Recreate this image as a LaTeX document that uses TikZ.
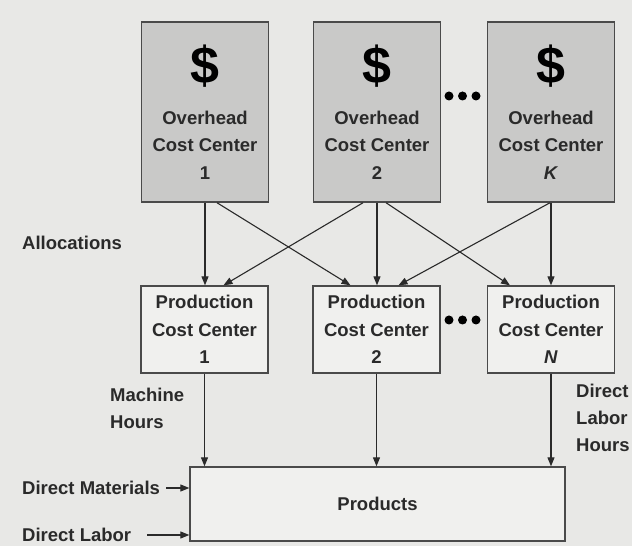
\documentclass[tikz,border=0pt]{standalone}
\usepackage{fontspec}
\setmainfont{Liberation Sans}
\usetikzlibrary{arrows.meta}

\definecolor{paper}{HTML}{E8E8E6}
\definecolor{ohfill}{HTML}{C9C9C8}
\definecolor{pcfill}{HTML}{F0F0EE}
\definecolor{ink}{HTML}{2A2A2A}

\begin{document}
\begin{tikzpicture}[x=1pt,y=1pt,
    overhead/.style={draw=ink!85,fill=ohfill,line width=1.5pt,minimum width=127pt,minimum height=180pt,inner sep=0pt},
    prodbox/.style={draw=ink!85,fill=pcfill,line width=1.3pt,minimum width=127pt,minimum height=87pt,inner sep=0pt},
    boxtext/.style={align=center,inner sep=0pt,text=ink,font=\fontsize{18.5}{27.5}\selectfont\bfseries},
    sidetext/.style={align=left,inner sep=0pt,text=ink,font=\fontsize{18.5}{27}\selectfont\bfseries},
    dollar/.style={inner sep=0pt,text=black,font=\fontsize{52}{54}\selectfont\bfseries},
    alloc/.style={-{Triangle[length=9pt,width=7pt]},draw=ink,line width=1.1pt},
    dotmark/.style={circle,fill=black,inner sep=0pt,minimum size=9pt}]
    \fill[paper] (0,0) rectangle (632,546);
    \useasboundingbox (0,0) rectangle (632,546);

    % overhead cost centers
    \node[overhead] (oh1) at (205,434) {};
    \node[overhead] (oh2) at (377,434) {};
    \node[overhead] (oh3) at (551,434) {};
    \foreach \n/\k in {1/1,2/2,3/\textit{K}} {
        \node[dollar] (oh\n d) at ([yshift=-45pt]oh\n.north) {\$};
        \node[boxtext] (oh\n t) at ([yshift=-124pt]oh\n.north) {Overhead\\Cost Center\\\k};
    }
    \foreach \i in {0,1,2}
        \node[dotmark] (ohdot\i) at (449+13.5*\i,450) {};

    % production cost centers
    \node[prodbox] (pc1) at (204.5,216.5) {};
    \node[prodbox] (pc2) at (376.5,216.5) {};
    \node[prodbox] (pc3) at (551,216.5) {};
    \foreach \n/\k in {1/1,2/2,3/\textit{N}}
        \node[boxtext] (pc\n t) at ([yshift=-44pt]pc\n.north) {Production\\Cost Center\\\k};
    \foreach \i in {0,1,2}
        \node[dotmark] (pcdot\i) at (449+13.5*\i,226) {};

    \node[prodbox,minimum width=375pt,minimum height=74pt] (prod) at (377.5,42) {};
    \node[boxtext] (prodt) at (prod) {Products};

    % allocations
    \draw[alloc] (oh1.south) -- (oh1.south |- pc1.north);
    \draw[alloc] (oh2.south) -- (oh2.south |- pc2.north);
    \draw[alloc] (oh3.south) -- (oh3.south |- pc3.north);
    \draw[alloc] ([xshift=12pt]oh1.south) -- ([xshift=-26pt]pc2.north);
    \draw[alloc] ([xshift=-14pt]oh2.south) -- ([xshift=19pt]pc1.north);
    \draw[alloc] ([xshift=9pt]oh2.south) -- ([xshift=-41pt]pc3.north);
    \draw[alloc] ([xshift=-1pt]oh3.south) -- ([xshift=22pt]pc2.north);

    % into products
    \draw[alloc] (pc1.south) -- (pc1.south |- prod.north);
    \draw[alloc] (pc2.south) -- (pc2.south |- prod.north);
    \draw[alloc] (pc3.south) -- (pc3.south |- prod.north);

    \node[sidetext,anchor=west] (alloct) at (22,303) {Allocations};
    \node[sidetext,anchor=west] (mht) at (110,137.5) {Machine\\Hours};
    \node[sidetext,anchor=west] (dlht) at (576,128) {Direct\\Labor\\Hours};
    \node[sidetext,anchor=west] (dmt) at (22,58) {Direct Materials};
    \node[sidetext,anchor=west] (dlt) at (22,11) {Direct Labor};
    \draw[alloc] ([xshift=6pt]dmt.east) -- (dmt.east -| prod.west);
    \draw[alloc] ([xshift=16pt]dlt.east) -- (dlt.east -| prod.west);
\end{tikzpicture}
\end{document}
